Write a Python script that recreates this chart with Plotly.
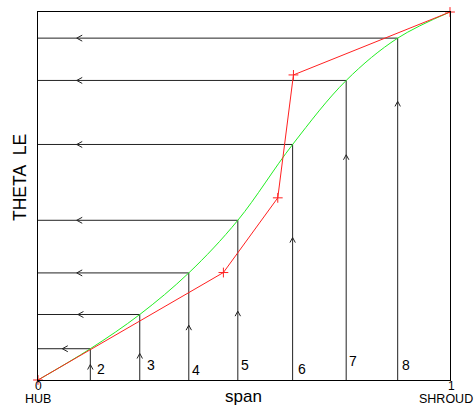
import plotly.graph_objects as go

# Stations along the span (HUB = 0 .. SHROUD = 1)
station_labels = ["2", "3", "4", "5", "6", "7", "8"]
station_span = [0.127, 0.247, 0.366, 0.485, 0.618, 0.748, 0.873]
station_theta = [0.085, 0.178, 0.291, 0.434, 0.640, 0.814, 0.929]

# Smooth THETA LE distribution (end points added to station values)
smooth_span = [0.0] + station_span + [1.0]
smooth_theta = [0.0] + station_theta + [1.0]

# Raw THETA LE input points
raw_span = [0.0, 0.450, 0.582, 0.620, 1.0]
raw_theta = [0.0, 0.292, 0.495, 0.829, 1.0]

# Arrow locations on the construction lines
harrow_span = [0.059, 0.097, 0.094, 0.094, 0.094, 0.094, 0.094]
varrow_theta = [0.042, 0.072, 0.149, 0.187, 0.387, 0.612, 0.757]

# Station number positions
label_span = [0.152, 0.275, 0.383, 0.502, 0.640, 0.764, 0.892]
label_theta = [0.029, 0.041, 0.026, 0.040, 0.031, 0.053, 0.041]

W, H = 475, 405
ML, MR, MT, MB = 38, 25, 12, 25
PW, PH = W - ML - MR, H - MT - MB
px_x, px_y = 1.0 / PW, 1.0 / PH
FONT = "Liberation Sans, Arial, sans-serif"
LINE = "#222222"


def paper_x(px):
    return (px - ML) / PW


def paper_y(py):
    return (MT + PH - py) / PH


fig = go.Figure()

# construction lines: up from the span axis to the curve, then left to the theta axis
cx, cy = [], []
for s, t in zip(station_span, station_theta):
    cx += [s, s, 0.0, None]
    cy += [0.0, t, t, None]
fig.add_trace(go.Scatter(x=cx, y=cy, mode="lines",
                         line=dict(color=LINE, width=1), hoverinfo="skip"))

# chevrons: "^" on the verticals, "<" on the horizontals
ax, ay = [], []
for s, a in zip(station_span, varrow_theta):
    ax += [s - 2.7 * px_x, s, s + 2.7 * px_x, None]
    ay += [a - 5 * px_y, a, a - 5 * px_y, None]
for h, t in zip(harrow_span, station_theta):
    ax += [h + 5.5 * px_x, h, h + 5.5 * px_x, None]
    ay += [t + 3 * px_y, t, t - 3 * px_y, None]
fig.add_trace(go.Scatter(x=ax, y=ay, mode="lines",
                         line=dict(color=LINE, width=1), hoverinfo="skip"))

# smoothed distribution
fig.add_trace(go.Scatter(x=smooth_span, y=smooth_theta, mode="lines",
                         line=dict(color="#22ee22", width=1, shape="spline", smoothing=1.0)))

# raw points
fig.add_trace(go.Scatter(x=raw_span, y=raw_theta, mode="lines+markers",
                         line=dict(color="#ff2020", width=1),
                         marker=dict(symbol="cross-thin", size=7,
                                     line=dict(color="#ff2020", width=1)),
                         cliponaxis=False))

ann = []
for lab, x, y in zip(station_labels, label_span, label_theta):
    ann.append(dict(x=x, y=y, xref="x", yref="y", text=lab, showarrow=False,
                    font=dict(family=FONT, size=14, color="black"),
                    xanchor="center", yanchor="middle"))


def paper_text(text, x, y, size, angle=0, xanchor="center"):
    return dict(x=x, y=y, xref="paper", yref="paper", text=text, showarrow=False,
                font=dict(family=FONT, size=size, color="black"),
                xanchor=xanchor, yanchor="middle", textangle=angle)


ann += [
    paper_text("0", 0.0, paper_y(386), 12),
    paper_text("HUB", 0.0, paper_y(398.5), 12.5),
    paper_text("1", paper_x(451.5), paper_y(386), 12),
    paper_text("SHROUD", paper_x(475), paper_y(399), 12.5, xanchor="right"),
    paper_text("span", paper_x(243), paper_y(396), 17),
    paper_text("THETA\u00a0 LE", paper_x(20), paper_y(178), 17.5, -90),
]

fig.update_layout(
    width=W, height=H,
    margin=dict(l=ML, r=MR, t=MT, b=MB, pad=0),
    paper_bgcolor="white", plot_bgcolor="white",
    showlegend=False,
    annotations=ann,
    xaxis=dict(range=[0, 1], showgrid=False, zeroline=False, showticklabels=False,
               ticks="", showline=True, mirror=True, linecolor="black", linewidth=1),
    yaxis=dict(range=[0, 1], showgrid=False, zeroline=False, showticklabels=False,
               ticks="", showline=True, mirror=True, linecolor="black", linewidth=1),
)

fig.write_html("out.html")
